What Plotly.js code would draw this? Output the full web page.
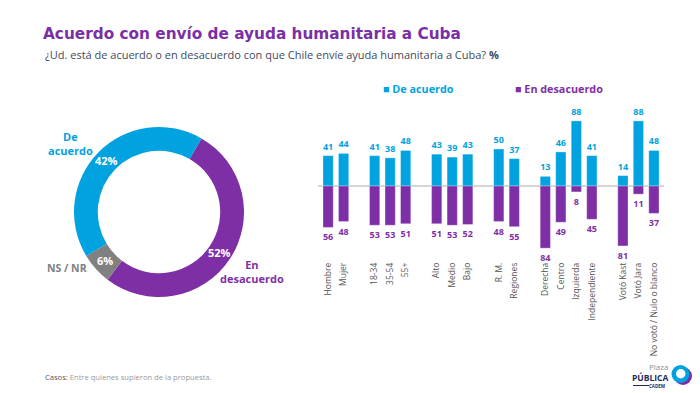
<!DOCTYPE html>
<html><head><meta charset="utf-8">
<script src="https://cdn.plot.ly/plotly-3.0.1.min.js"></script>
<style>html,body{margin:0;padding:0;background:#fff}#chart{width:700px;height:393px}</style>
</head><body><div id="chart"></div>
<script>
// ---- data ----
const pieLabels = ['En desacuerdo', 'NS / NR', 'De acuerdo'];
const pieValues = [52, 6, 42];
const categories = ['Hombre','Mujer','18-34','35-54','55+','Alto','Medio','Bajo','R. M.','Regiones','Derecha','Centro','Izquierda','Independiente','Votó Kast','Votó Jara','No votó / Nulo o blanco'];
const groups = [0,0,1,1,1,2,2,2,3,3,4,4,4,4,5,5,5];
const deAcuerdo = [41,44,41,38,48,43,39,43,50,37,13,46,88,41,14,88,48];
const enDesacuerdo = [56,48,53,53,51,51,53,52,48,55,84,49,8,45,81,11,37];

// ---- styling ----
const BLUE = '#00A3DF', PURPLE = '#7F2FA5', GRAY = '#808080';
const FONT = 'Open Sans, Noto Sans, sans-serif';
const TFONT = 'DejaVu Sans, sans-serif';
const W = 700, H = 393;
const px = v => v / W, py = v => 1 - v / H;

const xs = categories.map((c, i) => i + groups[i]);

// donut geometry (pixels)
const PIE_CX = 159, PIE_CY = 212, PIE_R = 85, HOLE = 0.72, ROT = 30;

const pie = {
  type: 'pie', labels: pieLabels, values: pieValues, hole: HOLE, sort: false,
  direction: 'clockwise', rotation: ROT,
  marker: {colors: [PURPLE, GRAY, BLUE], line: {width: 0}},
  textinfo: 'none',
  domain: {x: [px(PIE_CX - PIE_R), px(PIE_CX + PIE_R)], y: [py(PIE_CY + PIE_R), py(PIE_CY - PIE_R)]},
  showlegend: false, hoverinfo: 'label+value'
};

// percentage labels at each slice's mid angle, on the middle of the ring
const total = pieValues.reduce((a, b) => a + b, 0);
const pctAnnotations = [];
let acc = 0;
pieValues.forEach((v) => {
  const mid = (ROT + (acc + v / 2) / total * 360) * Math.PI / 180;
  acc += v;
  const rm = PIE_R * (1 + HOLE) / 2;
  pctAnnotations.push({
    xref: 'paper', yref: 'paper', showarrow: false,
    x: px(PIE_CX + rm * Math.sin(mid)), y: py(PIE_CY - rm * Math.cos(mid)),
    xanchor: 'center', yanchor: 'middle', text: '<b>' + v + '%</b>',
    font: {family: FONT, size: 11, color: '#fff'}
  });
});

const barCommon = {
  type: 'bar', x: xs, width: 0.66, textposition: 'outside', constraintext: 'none',
  cliponaxis: false, showlegend: false, xaxis: 'x', yaxis: 'y'
};
const barA = Object.assign({}, barCommon, {
  name: 'De acuerdo', y: deAcuerdo, text: deAcuerdo.map(String), texttemplate: '<b>%{text}</b>',
  marker: {color: BLUE, line: {color: 'rgba(255,255,255,0.5)', width: 0.6}},
  textfont: {color: BLUE, size: 9, family: FONT}
});
const barD = Object.assign({}, barCommon, {
  name: 'En desacuerdo', y: enDesacuerdo.map(v => -v), text: enDesacuerdo.map(String), texttemplate: '<b>%{text}</b>',
  marker: {color: PURPLE, line: {color: 'rgba(255,255,255,0.5)', width: 0.6}},
  textfont: {color: PURPLE, size: 9, family: FONT}
});

const ann = (x, y, text, opts) => Object.assign({
  xref: 'paper', yref: 'paper', x: px(x), y: py(y), text: text, showarrow: false,
  xanchor: 'left', yanchor: 'middle', font: {family: FONT, size: 11, color: '#333'}
}, opts || {});

const layout = {
  width: W, height: H, margin: {l: 0, r: 0, t: 0, b: 0},
  paper_bgcolor: '#fff', plot_bgcolor: 'rgba(0,0,0,0)',
  font: {family: FONT},
  barmode: 'overlay',
  title: {text: '<b>Acuerdo con envío de ayuda humanitaria a Cuba</b>', x: px(43), xanchor: 'left', xref: 'paper',
          y: py(34), yanchor: 'middle', yref: 'paper', font: {family: TFONT, size: 15.3, color: '#7B2FA6'}},
  xaxis: {domain: [px(318), px(664)], range: [-0.65, 21.65], tickmode: 'array', tickvals: xs, ticktext: categories,
          tickangle: -90, tickfont: {size: 8.5, color: '#555', family: FONT}, showgrid: false, zeroline: false,
          showline: false, ticks: '', fixedrange: true},
  yaxis: {domain: [py(260), py(112)], range: [-100, 100], showticklabels: false, showgrid: false,
          zeroline: true, zerolinecolor: '#d6d6d6', zerolinewidth: 1.5, fixedrange: true},
  annotations: pctAnnotations.concat([
    ann(43, 55, '¿Ud. está de acuerdo o en desacuerdo con que Chile envíe ayuda humanitaria a Cuba? <b>%</b>',
        {font: {family: FONT, size: 11, color: '#3E4A5E'}}),
    ann(381, 89, '■ <b>De acuerdo</b>', {font: {family: FONT, size: 10.8, color: BLUE}}),
    ann(513, 89, '■ <b>En desacuerdo</b>', {font: {family: FONT, size: 10.8, color: PURPLE}}),
    ann(70, 144, '<b>De<br>acuerdo</b>', {xanchor: 'center', font: {family: FONT, size: 11, color: BLUE}}),
    ann(252, 271, '<b>En<br>desacuerdo</b>', {xanchor: 'center', font: {family: FONT, size: 11, color: PURPLE}}),
    ann(67, 268, '<b>NS / NR</b>', {xanchor: 'center', font: {family: FONT, size: 10.5, color: GRAY}}),
    ann(43, 377, '<span style="color:#555">Casos:</span> Entre quienes supieron de la propuesta.',
        {font: {family: FONT, size: 7.6, color: '#9a9a9a'}}),
    ann(670, 366, 'Plaza', {xanchor: 'right', font: {family: FONT, size: 8, color: '#8a8fa0'}}),
    ann(670.5, 377, '<b>PÚBLICA</b>', {xanchor: 'right', font: {family: FONT, size: 8.5, color: '#1d2a5c'}}),
    ann(667, 385.6, '<b>CADEM</b>', {xanchor: 'right', font: {family: FONT, size: 4.5, color: '#1d2a5c'}})
  ]),
  shapes: [
    {type: 'line', xref: 'paper', yref: 'paper', x0: px(633), x1: px(649), y0: py(385.5), y1: py(385.5), line: {color: '#1d2a5c', width: 1}},
    {type: 'circle', xref: 'paper', yref: 'paper', x0: px(674), x1: px(692), y0: py(385), y1: py(367), fillcolor: PURPLE, line: {width: 0}},
    {type: 'circle', xref: 'paper', yref: 'paper', x0: px(671.5), x1: px(689.5), y0: py(383), y1: py(365), fillcolor: BLUE, line: {width: 0}},
    {type: 'circle', xref: 'paper', yref: 'paper', x0: px(676), x1: px(685.5), y0: py(378.5), y1: py(369), fillcolor: '#fff', line: {width: 0}}
  ]
};

Plotly.newPlot('chart', [pie, barA, barD], layout, {displayModeBar: false, staticPlot: true});
</script>
</body></html>
